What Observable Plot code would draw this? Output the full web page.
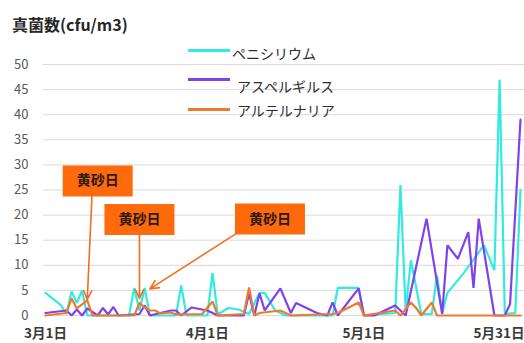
<!DOCTYPE html>
<html>
<head>
<meta charset="utf-8">
<script src="https://cdn.jsdelivr.net/npm/d3@7"></script>
<script src="https://cdn.jsdelivr.net/npm/@observablehq/plot@0.6"></script>
<style>
  body { margin: 0; background: #fff; font-family: "Noto Sans CJK JP", "Noto Sans", sans-serif; }
  #wrap { position: relative; width: 524px; height: 343px; overflow: hidden; }
  #title { position: absolute; left: 12px; top: 12px; font-size: 16px; font-weight: bold; color: #262626; white-space: nowrap; }
  .swatch { position: absolute; height: 2.5px; width: 42px; }
  .lgtext { position: absolute; font-size: 14px; color: #2e2e2e; white-space: nowrap; line-height: 1; }
  #chart { position: absolute; left: 0; top: 0; }
</style>
</head>
<body>
<div id="wrap">
  <div id="chart"></div>
  <div id="title">真菌数(cfu/m3)</div>
  <div id="legend"></div>
</div>
<script>
// Airborne fungal counts (cfu/m3), March 1 – May 31
const seriesNames = ["ペニシリウム", "アスペルギルス", "アルテルナリア"];
const seriesColors = ["#30ebe0", "#8042ec", "#f07a2c"];

const penicilliumDates = ["03-01","03-04","03-05","03-06","03-07","03-08","03-09","03-17","03-18","03-19","03-20","03-21","03-26","03-27","03-28","04-01","04-02","04-03","04-05","04-07","04-09","04-11","04-12","04-14","04-16","04-25","04-26","04-30","05-01","05-07","05-08","05-09","05-10","05-12","05-14","05-15","05-16","05-17","05-20","05-24","05-26","05-27","05-28","05-30","05-31"];
const penicilliumValues = [4.5,2,0.3,4.8,2.5,5,0,0,5.5,1,5.5,0,0,6,0,0,8.5,0.2,1.5,1.2,0.3,4.5,4.5,1,0,0,5.5,5.5,0,0.5,26,1,11,0.3,0.3,8,0.5,4.5,8.3,14,9,47,0.3,0.5,25];

const aspergillusDates = ["03-01","03-05","03-06","03-07","03-08","03-09","03-11","03-12","03-13","03-14","03-15","03-19","03-20","03-21","03-25","03-26","03-27","03-29","04-01","04-03","04-08","04-09","04-10","04-11","04-12","04-15","04-17","04-18","04-22","04-24","04-25","04-26","04-30","05-01","05-03","05-07","05-09","05-13","05-16","05-17","05-19","05-21","05-22","05-23","05-26","05-28","05-29","05-31"];
const aspergillusValues = [0.5,1,0,1.2,0,1.4,0,1.5,0.2,1.7,0,0.3,2,0,1,1,0,1.6,1,0,0,4.4,0,4.4,1,5.4,0.5,2.5,0.5,0,2.6,0,5.4,0,0,2,0,19.3,0.3,14,11.3,16.6,5.5,19.3,0,0,2.3,39];

const alternariaDates = ["03-01","03-05","03-06","03-07","03-09","03-10","03-18","03-19","03-20","03-21","03-22","03-23","03-25","03-26","03-31","04-02","04-03","04-08","04-09","04-10","04-11","04-15","04-17","04-25","04-26","04-30","05-01","05-07","05-08","05-10","05-11","05-12","05-14","05-15","05-31"];
const alternariaValues = [0,0.5,3.4,1.4,3,0,0,2.5,1.6,1,1,0.4,0.6,0.2,0.3,2.8,0,0.3,5.6,0,0.5,1,0,0.3,0.5,2.6,0,1,0,2.6,1.5,0,2.6,0,0];

const yTicks = [0,5,10,15,20,25,30,35,40,45,50];
const xTickDates = ["03-01","04-01","05-01","05-31"];
const xTickLabels = ["3月1日","4月1日","5月1日","5月31日"];

// Yellow-dust (黄砂) day callouts
const dustLabels = ["黄砂日","黄砂日","黄砂日"];
const dustLabelDates = ["03-11","03-19","04-13"];
const dustLabelValues = [26.8, 19.1, 19.2];
const dustFromDates = ["03-10","03-19","04-11"];
const dustFromValues = [26, 19, 19.3];
const dustToDates = ["03-09","03-19","03-21"];
const dustToValues = [3.2, 3.4, 5.3];

const parse = d3.utcParse("%m-%d");
const toRows = (name, dates, values) => dates.map((d, i) => ({name, date: parse(d), value: values[i]}));
const series = [
  toRows(seriesNames[0], penicilliumDates, penicilliumValues),
  toRows(seriesNames[1], aspergillusDates, aspergillusValues),
  toRows(seriesNames[2], alternariaDates, alternariaValues)
];
const callouts = dustLabels.map((t, i) => ({
  text: t,
  x: parse(dustLabelDates[i]), y: dustLabelValues[i],
  x1: parse(dustFromDates[i]), y1: dustFromValues[i],
  x2: parse(dustToDates[i]), y2: dustToValues[i]
}));

const tickDates = xTickDates.map(parse);
const labelOf = d => xTickLabels[tickDates.findIndex(t => +t === +d)];

// rectangular box symbol for the callouts
const boxSymbol = { draw(ctx) { ctx.rect(-35, -15.5, 70, 31); } };
const calloutOrange = "#ff6a0d";
const font = "'Noto Sans CJK JP', 'Noto Sans', sans-serif";

const chart = Plot.plot({
  width: 524,
  height: 343,
  marginTop: 64,
  marginBottom: 28,
  marginLeft: 45,
  marginRight: 4,
  style: { fontFamily: font, background: "transparent", overflow: "visible" },
  x: { type: "utc", domain: [parse("03-01"), parse("05-31")] },
  y: { domain: [0, 50] },
  marks: [
    Plot.ruleY(yTicks, { stroke: "#d9d9d9", strokeWidth: 1, insetLeft: -2, insetRight: -4 }),
    Plot.axisY(yTicks, { tickSize: 0, tickPadding: 17, fontSize: 13, fill: "#595959", label: null }),
    Plot.axisX(tickDates.slice(0, 3), { tickSize: 0, tickPadding: 13, fontSize: 13.5, fontWeight: "bold", fill: "#3a3a3a", tickFormat: labelOf, label: null }),
    Plot.axisX(tickDates.slice(3), { tickSize: 0, tickPadding: 13, fontSize: 13.5, fontWeight: "bold", fill: "#3a3a3a", tickFormat: labelOf, textAnchor: "end", dx: 4, label: null }),
    ...series.map((rows, i) => Plot.line(rows, { x: "date", y: "value", stroke: seriesColors[i], strokeWidth: 2.2, strokeLinejoin: "miter" })),
    Plot.arrow(callouts, { x1: "x1", y1: "y1", x2: "x2", y2: "y2", stroke: "#f26f1f", strokeWidth: 1.6, headLength: 9, headAngle: 50 }),
    Plot.dot(callouts, { x: "x", y: "y", symbol: boxSymbol, fill: calloutOrange, stroke: "none" }),
    Plot.text(callouts, { x: "x", y: "y", text: "text", fontSize: 14, fontWeight: "bold", fill: "#2a1a10" })
  ]
});
document.getElementById("chart").appendChild(chart);

// legend drawn in the upper part of the chart
const legendPlaces = [
  { line: [188, 50], label: [232, 46] },
  { line: [188, 79], label: [237, 79] },
  { line: [188, 109], label: [237, 103] }
];
const legend = document.getElementById("legend");
seriesNames.forEach((name, i) => {
  const sw = document.createElement("div");
  sw.className = "swatch";
  sw.style.left = legendPlaces[i].line[0] + "px";
  sw.style.top = (legendPlaces[i].line[1] - 1) + "px";
  sw.style.background = seriesColors[i];
  legend.appendChild(sw);
  const tx = document.createElement("div");
  tx.className = "lgtext";
  tx.style.left = legendPlaces[i].label[0] + "px";
  tx.style.top = legendPlaces[i].label[1] + "px";
  tx.textContent = name;
  legend.appendChild(tx);
});
</script>
</body>
</html>
